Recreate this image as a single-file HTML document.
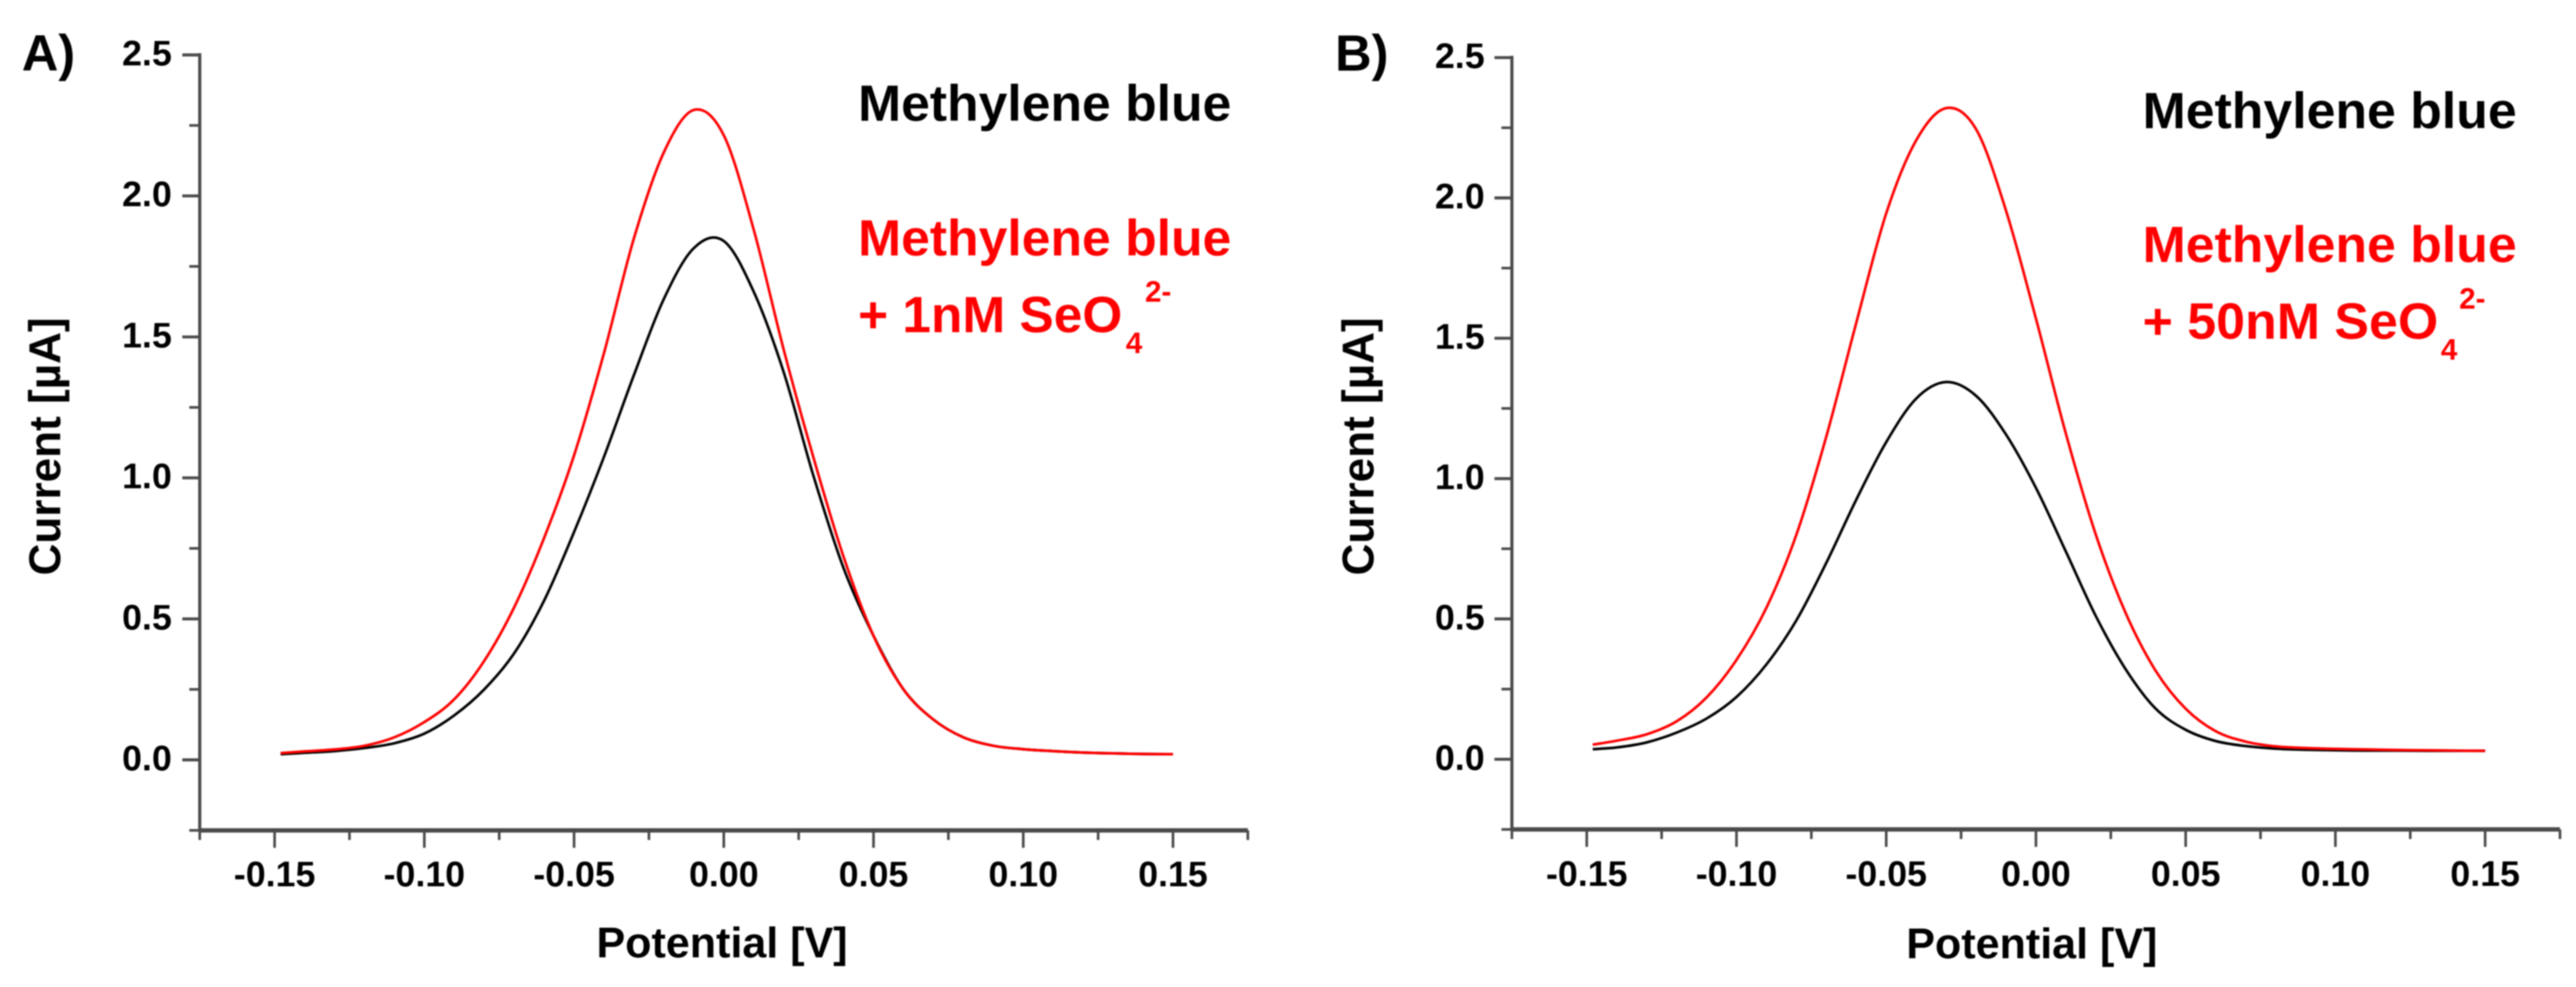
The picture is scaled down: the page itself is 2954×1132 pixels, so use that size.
<!DOCTYPE html>
<html lang="en">
<head>
<meta charset="utf-8">
<title>Methylene blue square wave voltammetry panels</title>
<style>
  html, body { margin: 0; padding: 0; background: #fff; }
  body { width: 2954px; height: 1132px; overflow: hidden; }
  svg { display: block; filter: blur(0.7px); }
  text { font-family: "Liberation Sans", Arial, sans-serif; font-weight: bold; }
</style>
</head>
<body>
<svg id="figure" xmlns="http://www.w3.org/2000/svg" width="2954" height="1132" viewBox="0 0 2954 1132">
  <rect x="0" y="0" width="2954" height="1132" fill="#fff"/>

  <g id="panel-a">
    <text x="25" y="81" font-size="58" fill="#000">A)</text>
    <text transform="translate(69,660) rotate(-90)" font-size="51" fill="#000" textLength="296" lengthAdjust="spacingAndGlyphs">Current [µA]</text>
    <text x="684" y="1098" font-size="49.5" fill="#000" textLength="288" lengthAdjust="spacingAndGlyphs">Potential [V]</text>
    <text x="984" y="138.5" font-size="58" fill="#000" textLength="428" lengthAdjust="spacingAndGlyphs">Methylene blue</text>
    <text x="984" y="293" font-size="58" fill="#f00" textLength="428" lengthAdjust="spacingAndGlyphs">Methylene blue</text>
    <text x="984" y="381" font-size="58" fill="#f00" textLength="303" lengthAdjust="spacingAndGlyphs">+ 1nM SeO</text>
    <text x="1291" y="405" font-size="34" fill="#f00">4</text>
    <text x="1313" y="346" font-size="34" fill="#f00">2-</text>
  </g>

  <g id="panel-b">
    <text x="1531" y="81" font-size="58" fill="#000">B)</text>
    <text transform="translate(1575,660) rotate(-90)" font-size="51" fill="#000" textLength="296" lengthAdjust="spacingAndGlyphs">Current [µA]</text>
    <text x="2186" y="1099" font-size="49.5" fill="#000" textLength="288" lengthAdjust="spacingAndGlyphs">Potential [V]</text>
    <text x="2457" y="147" font-size="58" fill="#000" textLength="429" lengthAdjust="spacingAndGlyphs">Methylene blue</text>
    <text x="2457" y="300.5" font-size="58" fill="#f00" textLength="429" lengthAdjust="spacingAndGlyphs">Methylene blue</text>
    <text x="2457" y="388.5" font-size="58" fill="#f00" textLength="339" lengthAdjust="spacingAndGlyphs">+ 50nM SeO</text>
    <text x="2799" y="412.5" font-size="34" fill="#f00">4</text>
    <text x="2820" y="354" font-size="34" fill="#f00">2-</text>
  </g>
</svg>

<script>
// Tick values and labels
const yMajorTicks = [0, 0.5, 1, 1.5, 2, 2.5];
const yTickLabels = ['0.0', '0.5', '1.0', '1.5', '2.0', '2.5'];
const yMinorTicks = [-0.25, 0.25, 0.75, 1.25, 1.75, 2.25];
const xMajorTicks = [-0.15, -0.1, -0.05, 0, 0.05, 0.1, 0.15];
const xTickLabels = ['-0.15', '-0.10', '-0.05', '0.00', '0.05', '0.10', '0.15'];
const xMinorTicks = [-0.175, -0.125, -0.075, -0.025, 0.025, 0.075, 0.125, 0.175];

// Potential samples (V) shared by every trace
const potentials = [-0.148, -0.14, -0.13, -0.12, -0.11, -0.10, -0.09, -0.08, -0.07, -0.06, -0.05, -0.04, -0.03, -0.02, -0.01, 0, 0.01, 0.02, 0.03, 0.04, 0.05, 0.06, 0.07, 0.08, 0.09, 0.10, 0.11, 0.12, 0.13, 0.14, 0.15];

// Panel A currents (uA)
const aBlackCurrent = [0.020, 0.025, 0.031, 0.042, 0.059, 0.093, 0.158, 0.250, 0.378, 0.565, 0.808, 1.075, 1.365, 1.635, 1.815, 1.840, 1.660, 1.375, 1.005, 0.680, 0.440, 0.250, 0.143, 0.080, 0.050, 0.038, 0.031, 0.026, 0.023, 0.021, 0.020];
const aRedCurrent = [0.024, 0.030, 0.037, 0.050, 0.080, 0.134, 0.215, 0.351, 0.541, 0.787, 1.080, 1.443, 1.850, 2.155, 2.305, 2.215, 1.880, 1.455, 1.070, 0.720, 0.440, 0.250, 0.143, 0.080, 0.050, 0.038, 0.031, 0.026, 0.023, 0.021, 0.020];

// Panel B currents (uA)
const bBlackCurrent = [0.036, 0.042, 0.060, 0.095, 0.145, 0.222, 0.338, 0.495, 0.700, 0.925, 1.130, 1.285, 1.344, 1.295, 1.157, 0.967, 0.740, 0.510, 0.320, 0.180, 0.105, 0.065, 0.047, 0.038, 0.034, 0.032, 0.031, 0.031, 0.030, 0.030, 0.030];
const bRedCurrent = [0.052, 0.066, 0.089, 0.135, 0.220, 0.354, 0.540, 0.800, 1.150, 1.555, 1.945, 2.205, 2.320, 2.245, 1.955, 1.570, 1.160, 0.800, 0.520, 0.315, 0.180, 0.100, 0.063, 0.046, 0.040, 0.037, 0.035, 0.033, 0.032, 0.031, 0.030];

const SVG_NS = 'http://www.w3.org/2000/svg';
const AXIS_COLOR = '#4a4a4a';

function make(tag, attrs, parent) {
  const el = document.createElementNS(SVG_NS, tag);
  for (const k in attrs) el.setAttribute(k, attrs[k]);
  parent.appendChild(el);
  return el;
}

function smoothPath(points) {
  let d = 'M' + points[0][0].toFixed(2) + ' ' + points[0][1].toFixed(2);
  for (let i = 0; i < points.length - 1; i++) {
    const p0 = points[Math.max(i - 1, 0)];
    const p1 = points[i];
    const p2 = points[i + 1];
    const p3 = points[Math.min(i + 2, points.length - 1)];
    const c1x = p1[0] + (p2[0] - p0[0]) / 6;
    const c1y = p1[1] + (p2[1] - p0[1]) / 6;
    const c2x = p2[0] - (p3[0] - p1[0]) / 6;
    const c2y = p2[1] - (p3[1] - p1[1]) / 6;
    d += 'C' + c1x.toFixed(2) + ' ' + c1y.toFixed(2) + ' ' + c2x.toFixed(2) + ' ' + c2y.toFixed(2) + ' ' + p2[0].toFixed(2) + ' ' + p2[1].toFixed(2);
  }
  return d;
}

function drawAxes(group, prefix, xScale, yScale, labelRight, xLabelBaseline) {
  const left = xScale(-0.175);
  const bottom = yScale(-0.25);

  const yAxis = make('line', { x1: left, y1: yScale(2.5) - 2, x2: left, y2: bottom, stroke: AXIS_COLOR, 'stroke-width': 3.6 }, group);
  
  

  const xAxis = make('line', { x1: left, y1: bottom, x2: xScale(0.175), y2: bottom, stroke: AXIS_COLOR, 'stroke-width': 5 }, group);
  
  

  yMajorTicks.forEach(function (v, i) {
    const tick = make('line', { x1: left - 20, y1: yScale(v), x2: left, y2: yScale(v), stroke: AXIS_COLOR, 'stroke-width': 3.4 }, group);
    
    
    const label = make('text', { x: labelRight, y: yScale(v) + 12, 'text-anchor': 'end', 'font-size': 41, fill: '#000' }, group);
    
    
    label.textContent = yTickLabels[i];
  });

  yMinorTicks.forEach(function (v) {
    const tick = make('line', { x1: left - 12, y1: yScale(v), x2: left, y2: yScale(v), stroke: AXIS_COLOR, 'stroke-width': 3 }, group);
    
    
  });

  xMajorTicks.forEach(function (v, i) {
    const tick = make('line', { x1: xScale(v), y1: bottom, x2: xScale(v), y2: bottom + 20, stroke: AXIS_COLOR, 'stroke-width': 3 }, group);
    
    
    const label = make('text', { x: xScale(v), y: xLabelBaseline, 'text-anchor': 'middle', 'font-size': 41, fill: '#000' }, group);
    
    
    label.textContent = xTickLabels[i];
  });

  xMinorTicks.forEach(function (v) {
    const tick = make('line', { x1: xScale(v), y1: bottom, x2: xScale(v), y2: bottom + 11, stroke: AXIS_COLOR, 'stroke-width': 3 }, group);
    
    
  });
}

function drawSeries(group, name, xs, ys, color, xScale, yScale) {
  const pts = xs.map(function (x, i) { return [xScale(x), yScale(ys[i])]; });
  const line = make('path', { d: smoothPath(pts), fill: 'none', stroke: color, 'stroke-width': 3, 'stroke-linejoin': 'round' }, group);
  
  
}

const aX = function (v) { return 830 + 3434 * v; };
const aY = function (v) { return 871.5 - 323.4 * v; };
const bX = function (v) { return 2334.7 + 3434 * v; };
const bY = function (v) { return 870.8 - 321.9 * v; };

const panelA = document.getElementById('panel-a');
const panelB = document.getElementById('panel-b');

drawAxes(panelA, 'panel-a', aX, aY, 197, 1016.7);
drawSeries(panelA, 'panel-a-methylene-blue-curve', potentials, aBlackCurrent, '#000', aX, aY);
drawSeries(panelA, 'panel-a-selenate-1nm-curve', potentials, aRedCurrent, '#f00', aX, aY);

drawAxes(panelB, 'panel-b', bX, bY, 1702.5, 1016);
drawSeries(panelB, 'panel-b-methylene-blue-curve', potentials, bBlackCurrent, '#000', bX, bY);
drawSeries(panelB, 'panel-b-selenate-50nm-curve', potentials, bRedCurrent, '#f00', bX, bY);
</script>
</body>
</html>
